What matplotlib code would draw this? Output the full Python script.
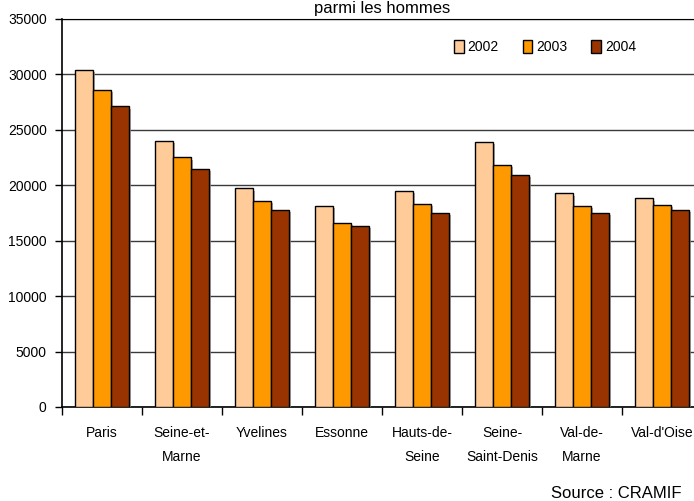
import matplotlib
matplotlib.use("Agg")
import matplotlib.pyplot as plt
import matplotlib.patheffects as pe
import numpy as np

categories = ["Paris", "Seine-et-\nMarne", "Yvelines", "Essonne", "Hauts-de-\nSeine",
              "Seine-\nSaint-Denis", "Val-de-\nMarne", "Val-d'Oise"]
years = ["2002", "2003", "2004"]
v2002 = [30400, 24000, 19700, 18100, 19500, 23900, 19250, 18800]
v2003 = [28600, 22500, 18550, 16600, 18300, 21850, 18100, 18200]
v2004 = [27100, 21500, 17750, 16300, 17500, 20900, 17500, 17750]
series = [v2002, v2003, v2004]
colors = ["#FFCC99", "#FF9900", "#993300"]
yticks = [0, 5000, 10000, 15000, 20000, 25000, 30000, 35000]

plt.rcParams['font.family'] = ['Liberation Sans Narrow', 'Liberation Sans', 'DejaVu Sans']

W, H = 694, 501
fig = plt.figure(figsize=(W / 100, H / 100), dpi=100)
ax = fig.add_axes([62 / W, (H - 407) / H, 640 / W, (407 - 18.8) / H])

x = np.arange(len(categories))
bw = 0.223
for i, (vals, c, yr) in enumerate(zip(series, colors, years)):
    ax.bar(x + (i - 1) * bw, vals, width=bw, color=c, edgecolor="black",
           linewidth=1.0, label=yr, zorder=3,
           path_effects=[pe.SimplePatchShadow(offset=(1.5, -1.5), shadow_rgbFace="#999999", alpha=0.8), pe.Normal()])

ax.set_xlim(-0.5, len(categories) - 0.5)
ax.set_ylim(0, 35000)
ax.set_yticks(yticks)
ax.set_yticklabels([str(t) for t in yticks], fontsize=10)
ax.yaxis.grid(True, color="#3a3a3a", linewidth=1.0, zorder=0)
ax.set_axisbelow(True)

ax.set_xticks(x)
ax.set_xticklabels(categories, fontsize=10, linespacing=1.85, va="top")
ax.set_xticks(np.arange(len(categories) + 1) - 0.5, minor=True)
ax.tick_params(axis="x", which="major", length=0, pad=14)
ax.tick_params(axis="x", which="minor", length=6, width=1, direction="out", color="black")
ax.tick_params(axis="y", length=5, width=1, direction="out", pad=6)

ax.spines["right"].set_visible(False)
for s in ["top", "left", "bottom"]:
    ax.spines[s].set_color("black")
ax.spines["left"].set_linewidth(1.2)
ax.spines["bottom"].set_linewidth(1.2)

leg = ax.legend(loc="center", bbox_to_anchor=(545 / W, 1 - 47 / H), bbox_transform=fig.transFigure,
                ncol=3, frameon=False, fontsize=10, handlelength=0.7, handleheight=1.1,
                handletextpad=0.3, columnspacing=1.7)
for h in leg.legend_handles:
    h.set_path_effects([])

fig.text(382 / W, 1 - 13 / H, "parmi les hommes", ha="center", va="baseline", fontsize=12,
         family=['Liberation Sans', 'DejaVu Sans'])
fig.text(551 / W, 1 - 494 / H, "Source : CRAMIF", ha="left", va="center", fontsize=12)

fig.savefig("out.png", dpi=100)
